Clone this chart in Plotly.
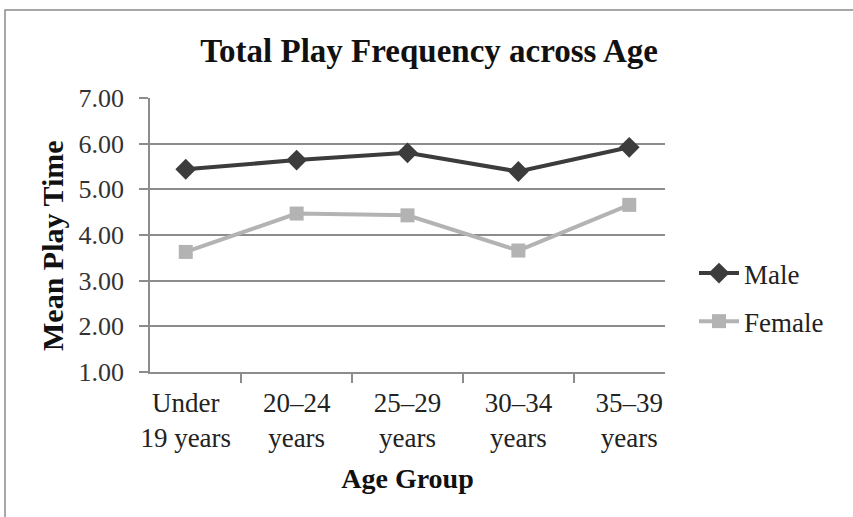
import plotly.graph_objects as go

# Age groups and mean play time per gender
age_groups = ["Under<br>19 years", "20–24<br>years", "25–29<br>years", "30–34<br>years", "35–39<br>years"]
male_mean = [5.44, 5.64, 5.80, 5.39, 5.92]
female_mean = [3.63, 4.47, 4.43, 3.66, 4.66]

y_ticks = [1, 2, 3, 4, 5, 6, 7]
y_tick_labels = ["1.00", "2.00", "3.00", "4.00", "5.00", "6.00", "7.00"]

serif = "Liberation Serif, Times New Roman, serif"
grid_col = "#8c8c8c"

fig = go.Figure()
fig.add_trace(go.Scatter(
    x=age_groups, y=male_mean, name="Male", mode="lines+markers", legendgroup="m",
    line=dict(color="#3c3c3c", width=4),
    marker=dict(symbol="diamond", size=16, color="#3c3c3c"),
))
fig.add_trace(go.Scatter(
    x=age_groups, y=female_mean, name="Female", mode="lines+markers", legendgroup="f",
    line=dict(color="#b3b3b3", width=4),
    marker=dict(symbol="square", size=14, color="#b3b3b3"),
))

W, H = 853, 517
L, R, T, B = 150, 188, 98, 145
pw, ph = W - L - R, H - T - B

def px(x):
    return (x - L) / pw

def py(y):
    return (H - B - y) / ph

fig.update_layout(
    width=W, height=H,
    margin=dict(l=L, r=R, t=T, b=B),
    paper_bgcolor="white", plot_bgcolor="white",
    font=dict(family=serif, color="#1a1a1a"),
    title=dict(text="<b>Total Play Frequency across Age</b>", x=px(429), xref="paper",
               xanchor="center", y=1 - 50 / H, yanchor="middle",
               font=dict(size=33, family=serif, color="#111")),
    showlegend=True,
    legend=dict(x=px(694), y=py(249), xanchor="left", yanchor="top",
                font=dict(size=27, family=serif, color="#222"),
                itemwidth=40, tracegroupgap=10, bgcolor="rgba(0,0,0,0)"),
    shapes=[dict(type="rect", xref="paper", yref="paper",
                 x0=px(5), y0=py(H + 20), x1=px(W + 20), y1=py(10),
                 line=dict(color="#8a8a8a", width=1.5), layer="below")],
    annotations=[dict(text="<b>Mean Play Time</b>", textangle=-90, showarrow=False,
                      xref="paper", yref="paper", x=px(52), y=py(246),
                      xanchor="center", yanchor="middle",
                      font=dict(size=30, family=serif, color="#111"))],
)

fig.update_xaxes(
    type="category", showgrid=False, showline=True, linecolor=grid_col, linewidth=1.5,
    ticks="outside", tickson="boundaries", ticklen=9, tickcolor=grid_col, tickwidth=1.5,
    tickfont=dict(size=27, family=serif, color="#222"), ticklabelstandoff=6,
    title=dict(text="<b>Age Group</b>", font=dict(size=28, family=serif, color="#111"), standoff=16),
)
fig.update_yaxes(
    range=[1, 7], tickvals=y_ticks, ticktext=y_tick_labels,
    showgrid=True, gridcolor=grid_col, gridwidth=1.5,
    showline=True, linecolor=grid_col, linewidth=1.5,
    ticks="outside", ticklen=9, tickcolor=grid_col, tickwidth=1.5,
    tickfont=dict(size=26, family=serif, color="#333"), ticklabelstandoff=10,
    zeroline=False,
)

fig.write_html("out.html")
